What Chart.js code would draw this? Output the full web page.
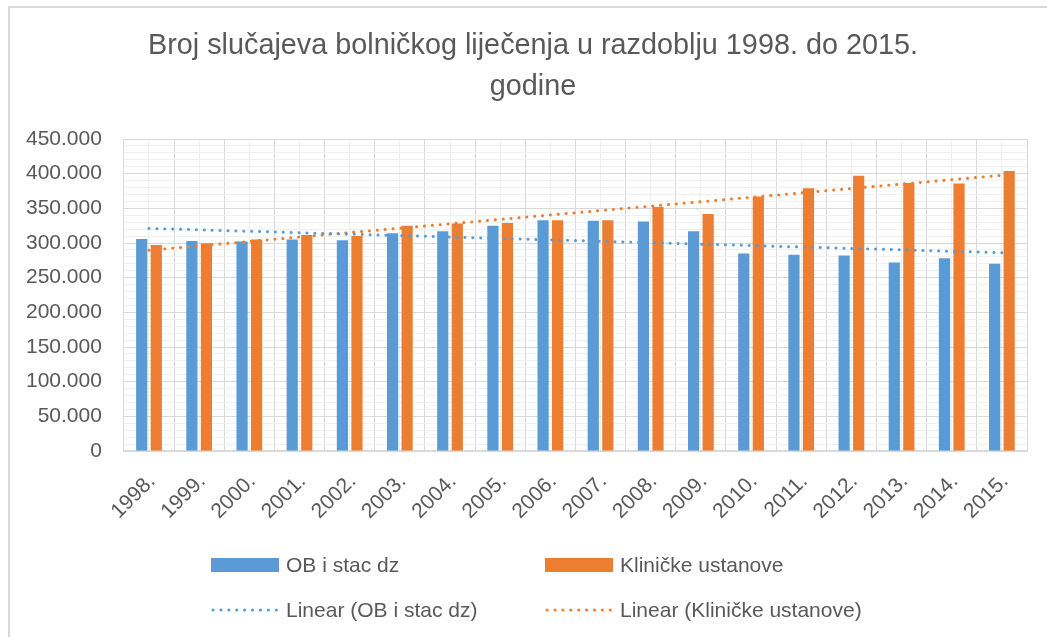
<!DOCTYPE html>
<html>
<head>
<meta charset="utf-8">
<script src="https://cdn.jsdelivr.net/npm/chart.js@4/dist/chart.umd.min.js"></script>
<style>
  html, body { margin: 0; padding: 0; background: #fff; overflow: hidden; }
  #frame { position: absolute; left: 8px; top: 6px; width: 1080px; height: 700px; border: 2px solid #d9d9d9; box-sizing: border-box; }
  #wrap { position: absolute; left: 0; top: 0; width: 1047px; height: 637px; }
</style>
</head>
<body>
<div id="frame"></div>
<div id="wrap"><canvas id="chart"></canvas></div>
<script>
// Data
const years = ['1998.', '1999.', '2000.', '2001.', '2002.', '2003.', '2004.', '2005.', '2006.',
               '2007.', '2008.', '2009.', '2010.', '2011.', '2012.', '2013.', '2014.', '2015.'];
const obStacDz = [305800, 303000, 302000, 305000, 304000, 314000, 317000, 325000, 333000,
                  332000, 331000, 317000, 285000, 283000, 282000, 272000, 278000, 270000];
const klinicke = [297000, 299500, 305000, 311500, 310000, 325000, 328000, 329000, 333000,
                  333000, 352000, 342000, 367000, 379000, 397000, 386500, 386000, 404000];
// linear trend lines: value at first and last year
const trendOb = [321000, 286000];
const trendKlinicke = [289500, 397700];

const titleLines = ['Broj slučajeva bolničkog liječenja u razdoblju 1998. do 2015.', 'godine'];

const blue = '#5b9bd5';
const orange = '#ed7d31';
const textColor = '#595959';
const font = '"Liberation Sans", Arial, sans-serif';

// trend line only has points at both ends
function trendSeries(ends) {
    return years.map((y, i) => i === 0 ? ends[0] : (i === years.length - 1 ? ends[1] : null));
}

function formatThousands(v) {
    return String(v).replace(/\B(?=(\d{3})+(?!\d))/g, '.');
}

// title is centred on the whole chart frame, which runs past the right edge of the page
const titleCenterX = 533;
const titleRows = [46, 87];
const frameTitle = {
    id: 'frameTitle',
    afterDraw(chart) {
        const ctx = chart.ctx;
        ctx.save();
        ctx.font = '28.8px ' + font;
        ctx.fillStyle = textColor;
        ctx.textAlign = 'center';
        ctx.textBaseline = 'middle';
        titleLines.forEach((line, i) => ctx.fillText(line, titleCenterX, titleRows[i]));
        ctx.restore();
    }
};

// legend in a 2x2 grid like the Excel one
const legendCols = [211, 545];
const legendRows = [565, 610];
const gridLegend = {
    id: 'gridLegend',
    afterDraw(chart) {
        const ctx = chart.ctx;
        ctx.save();
        ctx.font = '21px ' + font;
        ctx.textBaseline = 'middle';
        chart.data.datasets.forEach((ds, i) => {
            const x = legendCols[i % 2];
            const y = legendRows[Math.floor(i / 2)];
            if (ds.type === 'line') {
                ctx.strokeStyle = ds.borderColor;
                ctx.lineWidth = 3;
                ctx.lineCap = 'round';
                ctx.setLineDash(ds.borderDash);
                ctx.beginPath();
                ctx.moveTo(x + 2, y);
                ctx.lineTo(x + 67, y);
                ctx.stroke();
                ctx.setLineDash([]);
            } else {
                ctx.fillStyle = ds.backgroundColor;
                ctx.fillRect(x, y - 7, 68, 14);
            }
            ctx.fillStyle = textColor;
            ctx.fillText(ds.label, x + 75, y + 1);
        });
        ctx.restore();
    }
};

new Chart(document.getElementById('chart'), {
    type: 'bar',
    data: {
        labels: years,
        datasets: [
            { label: 'OB i stac dz', data: obStacDz, backgroundColor: blue, order: 1,
              categoryPercentage: 0.58, barPercentage: 0.77 },
            { label: 'Kliničke ustanove', data: klinicke, backgroundColor: orange, order: 1,
              categoryPercentage: 0.58, barPercentage: 0.77 },
            { type: 'line', label: 'Linear (OB i stac dz)', data: trendSeries(trendOb),
              borderColor: blue, borderWidth: 3, borderDash: [0.1, 7.8], borderCapStyle: 'round',
              pointRadius: 0, spanGaps: true, order: 0 },
            { type: 'line', label: 'Linear (Kliničke ustanove)', data: trendSeries(trendKlinicke),
              borderColor: orange, borderWidth: 3, borderDash: [0.1, 7.8], borderCapStyle: 'round',
              pointRadius: 0, spanGaps: true, order: 0 }
        ]
    },
    options: {
        responsive: true,
        maintainAspectRatio: false,
        animation: false,
        layout: { padding: { left: 4, right: 20, top: 139, bottom: 95 } },
        plugins: {
            legend: { display: false },
            tooltip: { enabled: false },
            title: { display: false }
        },
        scales: {
            x: {
                grid: { color: '#d9d9d9', drawTicks: false },
                border: { color: '#d9d9d9', width: 2 },
                ticks: {
                    color: textColor, font: { family: font, size: 21 },
                    minRotation: 45, maxRotation: 45, autoSkip: false,
                    padding: 18, labelOffset: 3
                },
                // rotated labels should not push the plot to the right
                afterFit: (scale) => { scale.paddingLeft = 0; scale.paddingRight = 0; }
            },
            // lighter vertical lines through the middle of each category
            x2: {
                type: 'category',
                position: 'bottom',
                offset: true,
                grid: { offset: false, color: '#f0f0f0', drawTicks: false, z: -2 },
                border: { display: false },
                ticks: { display: false }
            },
            y: {
                min: 0,
                max: 450000,
                grid: {
                    drawTicks: false,
                    color: (c) => c.tick && c.tick.value % 50000 === 0 ? '#d9d9d9' : '#f0f0f0'
                },
                border: { display: false },
                ticks: {
                    stepSize: 10000,
                    autoSkip: false,
                    padding: 22,
                    color: textColor,
                    font: { family: font, size: 21 },
                    callback: (v) => v % 50000 === 0 ? formatThousands(v) : ''
                }
            }
        }
    },
    plugins: [frameTitle, gridLegend]
});
</script>
</body>
</html>
